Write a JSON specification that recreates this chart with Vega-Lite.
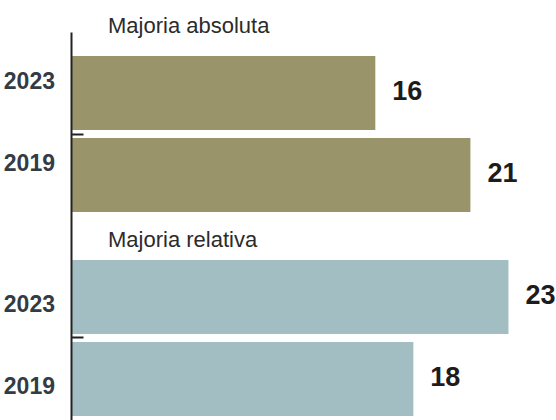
{
  "$schema": "https://vega.github.io/schema/vega-lite/v6.json",
  "width": 485,
  "height": 388,
  "autosize": {"type": "none"},
  "padding": {"left": 71, "top": 32, "right": 0, "bottom": 0},
  "background": "white",
  "config": {"view": {"stroke": null}},
  "data": {
    "values": [
      {"grupo": "Majoria absoluta", "ano": "2023", "valor": 16},
      {"grupo": "Majoria absoluta", "ano": "2019", "valor": 21},
      {"grupo": "Majoria relativa", "ano": "2023", "valor": 23},
      {"grupo": "Majoria relativa", "ano": "2019", "valor": 18}
    ]
  },
  "layer": [
    {
      "mark": {"type": "bar"},
      "encoding": {
        "y": {
          "field": "grupo", "type": "nominal",
          "scale": {"domain": ["Majoria absoluta", "Majoria relativa"], "paddingInner": 0.235, "paddingOuter": 0.0686, "align": 0.857},
          "axis": {"title": null, "labels": false, "ticks": true, "tickSize": -12, "tickWidth": 2, "tickColor": "#222222", "domainColor": "#222222", "domainWidth": 2, "grid": false, "zindex": 1}
        },
        "yOffset": {"field": "ano", "type": "nominal", "scale": {"domain": ["2023", "2019"], "paddingInner": 0.0976, "paddingOuter": 0}},
        "x": {"field": "valor", "type": "quantitative", "scale": {"domain": [0, 25.5], "nice": false}, "axis": null},
        "color": {"field": "grupo", "type": "nominal", "scale": {"domain": ["Majoria absoluta", "Majoria relativa"], "range": ["#9a946a", "#a2bec2"]}, "legend": null}
      }
    },
    {
      "mark": {"type": "text", "align": "left", "baseline": "middle", "dx": 17, "dy": -1, "font": "Liberation Sans, Arial, sans-serif", "fontSize": 27, "fontWeight": "bold", "color": "#1c1c1c"},
      "encoding": {
        "y": {"field": "grupo", "type": "nominal"},
        "yOffset": {"field": "ano", "type": "nominal"},
        "x": {"field": "valor", "type": "quantitative"},
        "text": {"field": "valor", "type": "quantitative"}
      }
    },
    {
      "transform": [{"filter": "datum.grupo == 'Majoria absoluta'"}],
      "mark": {"type": "text", "align": "right", "baseline": "middle", "dx": -16, "dy": -11, "font": "Liberation Sans, Arial, sans-serif", "fontSize": 23, "fontWeight": "bold", "color": "#333b45"},
      "encoding": {
        "y": {"field": "grupo", "type": "nominal"},
        "yOffset": {"field": "ano", "type": "nominal"},
        "x": {"datum": 0},
        "text": {"field": "ano", "type": "nominal"}
      }
    },
    {
      "transform": [{"filter": "datum.grupo == 'Majoria relativa'"}],
      "mark": {"type": "text", "align": "right", "baseline": "middle", "dx": -16, "dy": 8, "font": "Liberation Sans, Arial, sans-serif", "fontSize": 23, "fontWeight": "bold", "color": "#333b45"},
      "encoding": {
        "y": {"field": "grupo", "type": "nominal"},
        "yOffset": {"field": "ano", "type": "nominal"},
        "x": {"datum": 0},
        "text": {"field": "ano", "type": "nominal"}
      }
    },
    {
      "transform": [{"filter": "datum.grupo == 'Majoria absoluta' && datum.ano == '2023'"}],
      "mark": {"type": "text", "align": "left", "baseline": "alphabetic", "dx": 37, "dy": -23, "font": "Liberation Sans, Arial, sans-serif", "fontSize": 22, "fontWeight": "normal", "color": "#2b2b2b"},
      "encoding": {
        "y": {"field": "grupo", "type": "nominal", "bandPosition": 0},
        "x": {"datum": 0},
        "text": {"field": "grupo", "type": "nominal"}
      }
    },
    {
      "transform": [{"filter": "datum.grupo == 'Majoria relativa' && datum.ano == '2023'"}],
      "mark": {"type": "text", "align": "left", "baseline": "alphabetic", "dx": 37, "dy": -13, "font": "Liberation Sans, Arial, sans-serif", "fontSize": 22, "fontWeight": "normal", "color": "#2b2b2b"},
      "encoding": {
        "y": {"field": "grupo", "type": "nominal", "bandPosition": 0},
        "x": {"datum": 0},
        "text": {"field": "grupo", "type": "nominal"}
      }
    }
  ]
}
